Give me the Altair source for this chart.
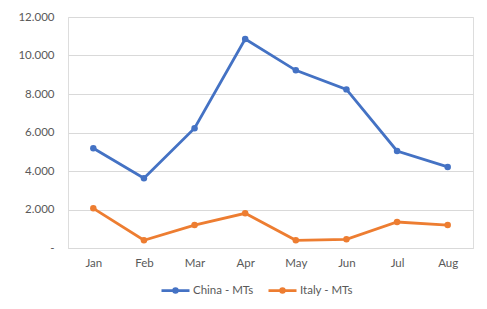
import altair as alt
import pandas as pd

months = ["Jan", "Feb", "Mar", "Apr", "May", "Jun", "Jul", "Aug"]
china = [5180, 3620, 6220, 10860, 9230, 8240, 5040, 4210]
italy = [2060, 400, 1190, 1800, 400, 450, 1350, 1190]
series = ["China - MTs", "Italy - MTs"]
colors = ["#4472C4", "#ED7D31"]

rows = []
for m, c, i in zip(months, china, italy):
    rows.append({"month": m, "series": series[0], "value": c})
    rows.append({"month": m, "series": series[1], "value": i})
df = pd.DataFrame(rows)

FONT = "Lato"
TXT = "#595959"
GRID = "#D9D9D9"

legend_path = "M-1,0H1M-0.13,0A0.13,0.13 0 1,1 0.13,0A0.13,0.13 0 1,1 -0.13,0Z"

x = alt.X("month:N", sort=months, title=None,
          scale=alt.Scale(paddingInner=0, paddingOuter=0),
          axis=alt.Axis(labelAngle=0, labelFont=FONT, labelFontSize=11.5, labelColor=TXT,
                        domain=True, domainColor=GRID, ticks=False, labelPadding=9, grid=False))
y = alt.Y("value:Q", title=None,
          scale=alt.Scale(domain=[0, 12000], nice=False),
          axis=alt.Axis(values=[0, 2000, 4000, 6000, 8000, 10000, 12000],
                        labelExpr="datum.value == 0 ? '-' : replace(format(datum.value, ',.0f'), ',', '.')",
                        labelFont=FONT, labelFontSize=11.5, labelColor=TXT, labelPadding=14,
                        domain=False, ticks=False, grid=True, gridColor=GRID, gridWidth=1))
color = alt.Color("series:N", scale=alt.Scale(domain=series, range=colors),
                  legend=alt.Legend(title=None, orient="none", direction="horizontal",
                                    legendX=92, legendY=258,
                                    symbolType=legend_path, symbolSize=784,
                                    symbolStrokeWidth=2.8, symbolOpacity=1,
                                    labelFont=FONT, labelFontSize=11.5, labelColor=TXT,
                                    labelOffset=2, columnPadding=8))

base = alt.Chart(df).encode(x=x, y=y, color=color)
lines = base.mark_line(strokeWidth=2.8)
points = base.mark_point(filled=True, size=42, opacity=1)

chart = (lines + points).properties(
    width=405, height=231,
    autosize=alt.AutoSizeParams(type="none"),
    padding={"left": 68, "top": 17, "right": 14, "bottom": 61},
).configure_view(stroke=None).configure(background="white")

chart.save("out.html", embed_options={"renderer": "svg", "actions": False})
